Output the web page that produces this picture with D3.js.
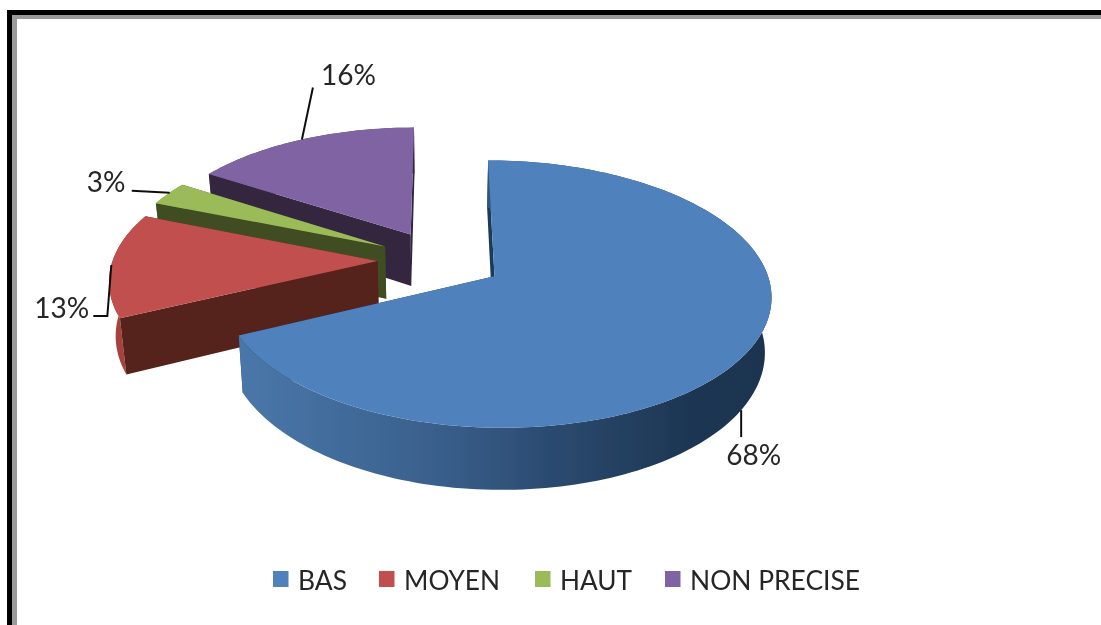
<!DOCTYPE html>
<html><head><meta charset="utf-8">
<script src="https://cdn.jsdelivr.net/npm/d3@7"></script>
<style>html,body{margin:0;padding:0;background:#fff}svg{display:block}text{font-family:Lato,"Open Sans",sans-serif;fill:#262626}</style>
</head><body><svg id="c" width="1101" height="625"></svg>
<script>
const categories = ["BAS","MOYEN","HAUT","NON PRECISE"];
const values = [68,13,3,16];
const labels = ["68%","13%","3%","16%"];
const topColors = ["#4f81bd","#c0504d","#9bbb59","#8064a2"];
const edgeColors = ["#1f3a5a","#54211f","#3f4d20","#342641"];
const rimColors = ["url(#blueWall)","#a8403d","#6f8a3a","#5a4676"];

const W=1101,H=625, cx=440, cy=260, rx=269, ry=127, k=0.1306, explode=0.236, depth=53, taper=0.98, leftScale=0.984;
const svg=d3.select("#c");
const defs=svg.append("defs");
defs.append("filter").attr("id","soft").attr("x","-5%").attr("y","-5%").attr("width","110%").attr("height","110%")
  .append("feGaussianBlur").attr("stdDeviation",0.55);
const g=svg.append("g").attr("filter","url(#soft)");
g.append("rect").attr("width",W).attr("height",H).attr("fill","#fff");
// frame
g.append("rect").attr("x",12).attr("y",15).attr("width",W).attr("height",4).attr("fill","#9a9a9a");
g.append("rect").attr("x",12).attr("y",15).attr("width",5).attr("height",H).attr("fill","#9a9a9a");
g.append("rect").attr("x",7).attr("y",10).attr("width",W).attr("height",5).attr("fill","#000");
g.append("rect").attr("x",7).attr("y",10).attr("width",5).attr("height",H).attr("fill","#000");

const arcs=d3.pie().sort(null).value(d=>d)(values);
function proj(u,v,low){
  const s=1/(1-k*v);
  let x=cx+rx*u*s*(u<0?leftScale:1), y=cy+ry*v*s;
  if(low){ x=cx+(x-cx)*taper; y+=depth*s; }
  return [x,y];
}
function world(a,r,off){ return [off[0]+r*Math.sin(a), off[1]-r*Math.cos(a)]; }

const grad=defs.append("linearGradient").attr("id","blueWall").attr("gradientUnits","userSpaceOnUse")
  .attr("x1",proj(-1,0.4)[0]+70).attr("x2",proj(1.2,0.2)[0]).attr("y1",0).attr("y2",0);
[[0,"#4a78ab"],[0.35,"#3b628f"],[0.6,"#2b4a6f"],[0.85,"#1d3652"],[1,"#1b3350"]].forEach(d=>grad.append("stop").attr("offset",d[0]).attr("stop-color",d[1]));

const line=d3.line();
const order=[3,2,1,0];
order.forEach(i=>{
  const d=arcs[i], mid=(d.startAngle+d.endAngle)/2;
  const off=[explode*Math.sin(mid),-explode*Math.cos(mid)];
  const n=Math.max(8,Math.round((d.endAngle-d.startAngle)*40));
  const ws=d3.range(n+1).map(j=>world(d.startAngle+(d.endAngle-d.startAngle)*j/n,1,off));
  const topPts=ws.map(w=>proj(w[0],w[1],false));
  const lowPts=ws.map(w=>proj(w[0],w[1],true));
  const a0=proj(off[0],off[1],false), a1=proj(off[0],off[1],true);
  const faces=[
    {pts:[a0,topPts[0],lowPts[0],a1],fill:edgeColors[i]},
    {pts:[a0,topPts[n],lowPts[n],a1],fill:edgeColors[i]},
    {pts:topPts.concat(lowPts.slice().reverse()),fill:rimColors[i]}
  ];
  faces.forEach(f=>f.my=d3.mean(f.pts,p=>p[1]));
  faces.sort((a,b)=>a.my-b.my).forEach(f=>{
    g.append("path").attr("d",line(f.pts)+"Z").attr("fill",f.fill);
  });
  g.append("path").attr("d",line([a0].concat(topPts))+"Z").attr("fill",topColors[i]);
});

// leaders: anchored on the rim at a fraction of each slice
const leaderSpec=[
 {t:0.5, steps:[[0,27]], tx:-15, ty:44, low:true},
 {t:0.5, steps:[[-4,51],[-18,51]], tx:-77, ty:42},
 {t:0.55, steps:[[-38,-2]], tx:-83, ty:-12},
 {t:0.5, steps:[[11,-52]], tx:19, ty:-65}
];
leaderSpec.forEach((l,i)=>{
  const d=arcs[i], mid=(d.startAngle+d.endAngle)/2;
  const off=[explode*Math.sin(mid),-explode*Math.cos(mid)];
  const w=world(d.startAngle+(d.endAngle-d.startAngle)*l.t,1,off);
  const p=proj(w[0],w[1],!!l.low);
  const pts=[p].concat(l.steps.map(s=>[p[0]+s[0],p[1]+s[1]]));
  g.append("path").attr("d",line(pts)).attr("fill","none").attr("stroke","#111").attr("stroke-width",2);
  g.append("text").attr("x",p[0]+l.tx).attr("y",p[1]+l.ty).attr("font-size",28).attr("dominant-baseline","central").text(labels[i]);
});

// legend
const legendX=d3.scaleOrdinal().domain(categories).range([273,379,535,665]);
const legendLen=[49,96,72,170];
const lg=g.append("g");
categories.forEach((c,i)=>{
  lg.append("rect").attr("x",legendX(c)).attr("y",571).attr("width",15.5).attr("height",16).attr("fill",topColors[i]);
  lg.append("text").attr("x",legendX(c)+25).attr("y",579.5).attr("font-size",26).attr("dominant-baseline","central")
    .attr("textLength",legendLen[i]).attr("lengthAdjust","spacingAndGlyphs").text(c);
});
</script></body></html>
